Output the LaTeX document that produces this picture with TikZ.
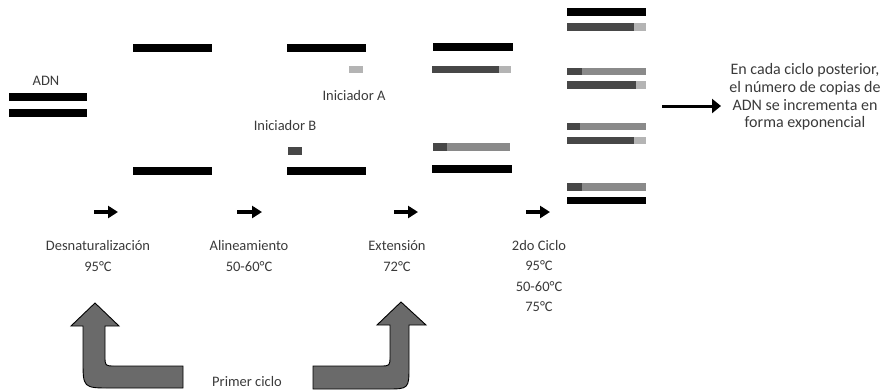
\documentclass[tikz,border=0pt]{standalone}
\usepackage{fontspec}
\setmainfont{Carlito}
\usetikzlibrary{arrows.meta}
\definecolor{txt}{HTML}{3A3A3A}
\definecolor{dk}{HTML}{474747}
\definecolor{md}{HTML}{8A8A8A}
\definecolor{lt}{HTML}{B4B4B4}
\definecolor{bigfill}{HTML}{6A6A6A}
\tikzset{
  lbl/.style={font=\fontsize{14.5}{21}\selectfont, text=txt, inner sep=0pt, align=center},
  blk/.style={fill=black},
  stepar/.style={line width=3.6pt, -{Triangle[length=10pt,width=12pt]}},
  bigar/.style={fill=bigfill, draw=black, line width=0.9pt, line join=miter}
}
\begin{document}
\begin{tikzpicture}[x=1pt,y=-1pt]
\useasboundingbox (0,0) rectangle (882,391);

% starting double strand
\node[lbl] (adn) at (46,81) {ADN};
\fill[blk] (9,93) rectangle (87,101);
\fill[blk] (9,109) rectangle (87,117);

% denatured strands
\fill[blk] (133,44) rectangle (212,52);
\fill[blk] (133,167) rectangle (212,175);

% annealing with primers
\fill[blk] (287,44) rectangle (366,52);
\fill[lt] (349,66) rectangle (363,73);
\node[lbl] (priA) at (354,96) {Iniciador A};
\node[lbl] (priB) at (285,126) {Iniciador B};
\fill[dk] (288,147) rectangle (302,155);
\fill[blk] (287,167) rectangle (366,175);

% extension
\fill[blk] (433,43) rectangle (513,51);
\fill[dk] (432,66) rectangle (499,73);
\fill[lt] (499,66) rectangle (511,73);
\fill[md] (433,143) rectangle (510,151);
\fill[dk] (433,143) rectangle (447,151);
\fill[blk] (432,165) rectangle (512,173);

% second cycle products
\fill[blk] (567,8) rectangle (646,16);
\fill[dk] (567,23) rectangle (634,31);
\fill[lt] (634,23) rectangle (646,31);
\fill[md] (567,68) rectangle (646,75);
\fill[dk] (567,68) rectangle (582,75);
\fill[dk] (567,81) rectangle (636,89);
\fill[lt] (636,81) rectangle (646,89);
\fill[md] (567,123) rectangle (646,130);
\fill[dk] (567,123) rectangle (580,130);
\fill[dk] (567,137) rectangle (634,144);
\fill[lt] (634,137) rectangle (646,144);
\fill[md] (567,183) rectangle (646,191);
\fill[dk] (567,183) rectangle (582,191);
\fill[blk] (567,197) rectangle (646,204);

% exponential growth note
\coordinate (bigS) at (662,106);
\coordinate (bigE) at (721,106);
\draw[line width=3pt, -{Triangle[length=9pt,width=14pt]}] (bigS) -- (bigE);
\node[lbl, font=\fontsize{16}{17.7}\selectfont] (note) at (805,97)
  {En cada ciclo posterior,\\el número de copias de\\ADN se incrementa en\\forma exponencial};

% step arrows
\coordinate (a1s) at (94,212);  \coordinate (a1e) at (118,212);
\coordinate (a2s) at (237,212); \coordinate (a2e) at (262,212);
\coordinate (a3s) at (394,212); \coordinate (a3e) at (418,212);
\coordinate (a4s) at (526,212); \coordinate (a4e) at (550,212);
\draw[stepar] (a1s) -- (a1e);
\draw[stepar] (a2s) -- (a2e);
\draw[stepar] (a3s) -- (a3e);
\draw[stepar] (a4s) -- (a4e);

% step labels
\node[lbl] (den) at (98,256) {Desnaturalización\\95°C};
\node[lbl] (ali) at (249,256) {Alineamiento\\50-60°C};
\node[lbl] (ext) at (397,256) {Extensión\\72°C};
\node[lbl, font=\fontsize{14.5}{20.3}\selectfont] (cic) at (539,276) {2do Ciclo\\95°C\\50-60°C\\75°C};
\node[lbl] (pri) at (247,382) {Primer ciclo};

% bent arrows of the first cycle
\draw[bigar] (95,303) -- (119,326) -- (105,326) -- (105,356)
  .. controls (105,366) .. (115,366) -- (183,366) -- (183,388) -- (111,388)
  .. controls (83,388) .. (83,360) -- (83,326) -- (71,326) -- cycle;
\draw[bigar] (401,302) -- (426,325) -- (409,325) -- (409,366)
  .. controls (409,389) .. (386,389) -- (313,389) -- (313,366) -- (380,366)
  .. controls (390,366) .. (390,356) -- (390,325) -- (377,325) -- cycle;
\end{tikzpicture}
\end{document}
